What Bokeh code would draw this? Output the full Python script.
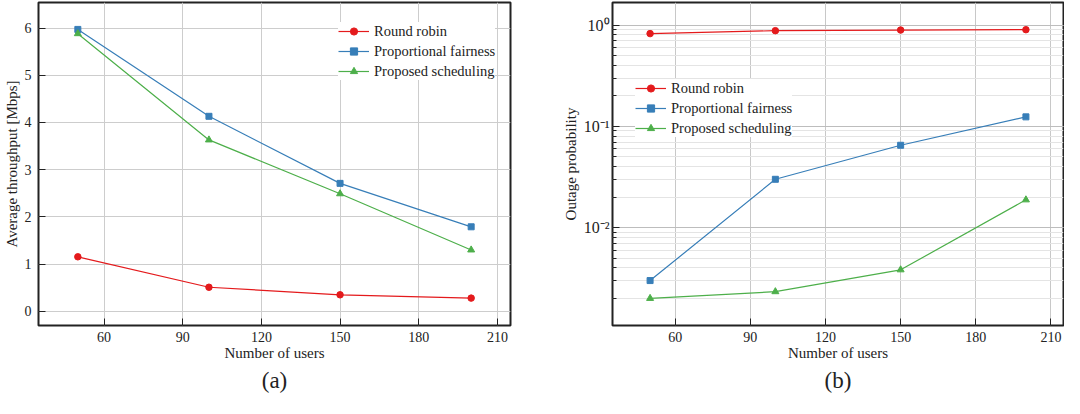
from bokeh.plotting import figure
from bokeh.layouts import row
from bokeh.models import Range1d, SingleIntervalTicker, Legend, LegendItem, Title, CustomJSTickFormatter, LogTicker
from bokeh.embed import file_html
from bokeh.resources import INLINE

# ---------------- data ----------------
users = [50, 100, 150, 200]
series_names = ["Round robin", "Proportional fairness", "Proposed scheduling"]

thr_round_robin = [1.155, 0.51, 0.35, 0.28]
thr_prop_fair = [5.97, 4.13, 2.71, 1.79]
thr_proposed = [5.88, 3.63, 2.49, 1.30]

out_round_robin = [0.823, 0.88, 0.893, 0.90]
out_prop_fair = [0.0030, 0.030, 0.065, 0.124]
out_proposed = [0.0020, 0.00233, 0.00383, 0.0188]

x_tick_interval = 30
y_tick_interval = 1
panel_tags = ["(a)", "(b)"]

# ---------------- style ----------------
colors = ["#e41a1c", "#377eb8", "#4daf4a"]
markers = ["circle", "square", "triangle"]
msizes = [6.5, 6, 7]
FONT = "Liberation Serif"
DARK = "#222222"


def style_axes(p):
    for ax in (p.xaxis[0], p.yaxis[0]):
        ax.axis_line_color = None
        ax.major_tick_in = 7
        ax.major_tick_out = 0
        ax.major_tick_line_color = DARK
        ax.major_tick_line_width = 1
        ax.minor_tick_line_color = None
        ax.major_label_text_font = FONT
        ax.major_label_text_font_size = "14px"
        ax.major_label_text_color = DARK
        ax.axis_label_text_font = FONT
        ax.axis_label_text_font_size = "15px"
        ax.axis_label_text_font_style = "normal"
        ax.axis_label_text_color = DARK
    p.xaxis[0].major_label_standoff = 2
    p.xaxis[0].axis_label_standoff = 0
    p.yaxis[0].major_label_standoff = 3
    p.yaxis[0].axis_label_standoff = 2
    p.outline_line_color = DARK
    p.outline_line_width = 2
    p.outline_line_alpha = 1
    p.background_fill_color = "white"
    p.border_fill_color = "white"


def add_series(p, ys_list):
    items = []
    for name, ys, c, m, s in zip(series_names, ys_list, colors, markers, msizes):
        r1 = p.line(users, ys, line_color=c, line_width=1.2)
        r2 = p.scatter(users, ys, marker=m, size=s, fill_color=c, line_color=c)
        items.append(LegendItem(label=name, renderers=[r1, r2]))
    return items


def make_legend(items, loc):
    lg = Legend(items=items, location=loc)
    lg.label_text_font = FONT
    lg.label_text_font_size = "14.5px"
    lg.label_text_color = DARK
    lg.glyph_width = 31
    lg.glyph_height = 18
    lg.label_height = 18
    lg.spacing = 2
    lg.padding = 6
    lg.label_standoff = 5
    lg.border_line_color = None
    lg.background_fill_color = "white"
    lg.background_fill_alpha = 1
    lg.margin = 0
    return lg


def add_tag(p, text):
    p.add_layout(Title(text=text, align="center", text_font=FONT, text_font_size="23px",
                       text_font_style="normal", text_color=DARK, standoff=5), "below")


# ---------------- (a) ----------------
p1 = figure(width=516, height=398, output_backend="svg", toolbar_location=None,
            x_range=Range1d(35, 215), y_range=Range1d(-0.3, 6.54),
            min_border_left=28, min_border_right=6, min_border_top=2, min_border_bottom=73)
style_axes(p1)
p1.xaxis[0].ticker = SingleIntervalTicker(interval=x_tick_interval)
p1.yaxis[0].ticker = SingleIntervalTicker(interval=y_tick_interval)
p1.xaxis[0].axis_label = "Number of users"
p1.yaxis[0].axis_label = "Average throughput [Mbps]"
p1.grid.grid_line_color = "#cdcdcd"
p1.grid.grid_line_width = 1
items1 = add_series(p1, [thr_round_robin, thr_prop_fair, thr_proposed])
p1.add_layout(make_legend(items1, (300, 245)))
add_tag(p1, panel_tags[0])

# ---------------- (b) ----------------
p2 = figure(width=548, height=398, output_backend="svg", toolbar_location=None,
            x_range=Range1d(35, 215), y_range=Range1d(1.08e-3, 1.67), y_axis_type="log",
            min_border_left=96, min_border_right=1, min_border_top=2, min_border_bottom=73)
style_axes(p2)
p2.xaxis[0].ticker = SingleIntervalTicker(interval=x_tick_interval)
p2.yaxis[0].ticker = LogTicker(num_minor_ticks=10)
p2.yaxis[0].minor_tick_line_color = DARK
p2.yaxis[0].minor_tick_in = 4
p2.yaxis[0].minor_tick_out = 0
p2.yaxis[0].formatter = CustomJSTickFormatter(code="""
const e = Math.round(Math.log10(tick));
const sup = {'-':'\u207b','0':'\u2070','1':'\u00b9','2':'\u00b2','3':'\u00b3','4':'\u2074','5':'\u2075','6':'\u2076','7':'\u2077','8':'\u2078','9':'\u2079'};
return '10' + String(e).split('').map(c => sup[c]).join('');
""")
p2.yaxis[0].major_label_text_font_size = "16px"
p2.xaxis[0].axis_label = "Number of users"
p2.yaxis[0].axis_label = "Outage probability"
p2.xgrid.grid_line_color = "#c8c8c8"
p2.ygrid.grid_line_color = "#bdbdbd"
p2.ygrid.minor_grid_line_color = "#e4e4e4"
p2.ygrid.minor_grid_line_width = 1
items2 = add_series(p2, [out_round_robin, out_prop_fair, out_proposed])
p2.add_layout(make_legend(items2, (23, 188)))
add_tag(p2, panel_tags[1])

layout = row(p1, p2)
open("out.html", "w").write(file_html(layout, INLINE))
